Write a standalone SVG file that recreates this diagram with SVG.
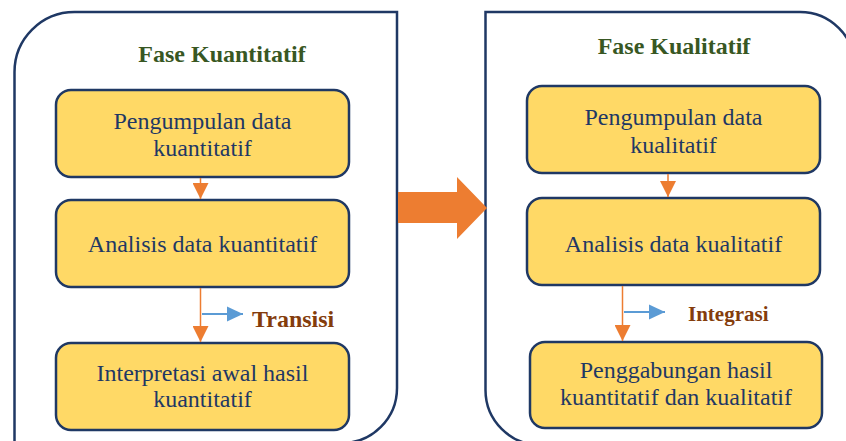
<svg xmlns="http://www.w3.org/2000/svg" width="846" height="441" viewBox="0 0 846 441">
<style>
.panel{fill:#FFFFFF;stroke:#1F3864;stroke-width:2.5}
.box{fill:#FFD966;stroke:#1F3864;stroke-width:2.5}
.t{font-family:"Liberation Serif","Times New Roman",serif;font-size:24px;fill:#1F3864;text-anchor:middle}
.title{font-family:"Liberation Serif","Times New Roman",serif;font-size:24px;font-weight:bold;fill:#385723;text-anchor:middle}
.lbl{font-family:"Liberation Serif","Times New Roman",serif;font-weight:bold;fill:#843C0C}
.oc{stroke:#ED7D31;stroke-width:1.5;fill:none}
.bc{stroke:#5B9BD5;stroke-width:2;fill:none}
</style>
<defs>
<marker id="ho" markerUnits="userSpaceOnUse" markerWidth="16" markerHeight="16" viewBox="0 0 16 16" refX="16" refY="8" orient="auto"><path d="M0,0 L16,8 L0,16 Z" fill="#ED7D31"/></marker>
<marker id="hb" markerUnits="userSpaceOnUse" markerWidth="16" markerHeight="16" viewBox="0 0 16 16" refX="16" refY="8" orient="auto"><path d="M0,0.5 L16,8 L0,15.5 Z" fill="#5B9BD5"/></marker>
</defs>
<rect width="846" height="441" fill="#FFFFFF"/>
<g id="panel-kuantitatif">
<path class="panel" d="M14.5,445 V72 A60,60 0 0 1 74.5,12 H397 V388 A55,55 0 0 1 342,443 H14.5 Z"/>
<text class="title" x="222" y="62">Fase Kuantitatif</text>
</g>
<g id="panel-kualitatif">
<path class="panel" d="M485.5,12 H800 A55,55 0 0 1 855,67 V445 H540.5 A55,55 0 0 1 485.5,390 Z"/>
<text class="title" x="674" y="54">Fase Kualitatif</text>
</g>
<g id="big-arrow">
<path d="M398,192 H457 V177 L487,208 L457,239 V223 H398 Z" fill="#ED7D31"/>
</g>
<g id="n1">
<rect class="box" x="56" y="90" width="293" height="87" rx="15"/>
<text class="t" x="202.5" y="129">Pengumpulan data</text>
<text class="t" x="202.5" y="156">kuantitatif</text>
</g>
<g id="n2">
<rect class="box" x="56" y="200" width="293" height="87" rx="15"/>
<text class="t" x="202.5" y="252">Analisis data kuantitatif</text>
</g>
<g id="n3">
<rect class="box" x="56" y="343" width="293" height="87" rx="15"/>
<text class="t" x="202.5" y="381">Interpretasi awal hasil</text>
<text class="t" x="202.5" y="407">kuantitatif</text>
</g>
<g id="n4">
<rect class="box" x="527" y="86" width="293" height="87" rx="15"/>
<text class="t" x="673.5" y="125">Pengumpulan data</text>
<text class="t" x="673.5" y="153">kualitatif</text>
</g>
<g id="n5">
<rect class="box" x="527" y="198" width="293" height="87" rx="15"/>
<text class="t" x="673.5" y="252">Analisis data kualitatif</text>
</g>
<g id="n6">
<rect class="box" x="530" y="342" width="292" height="86" rx="15"/>
<text class="t" x="676" y="378">Penggabungan hasil</text>
<text class="t" x="676" y="405">kuantitatif dan kualitatif</text>
</g>
<g id="connectors">
<path class="oc" d="M200.5,178 V199" marker-end="url(#ho)"/>
<path class="oc" d="M200.5,288 V342" marker-end="url(#ho)"/>
<path class="bc" d="M202,314 H243" marker-end="url(#hb)"/>
<path class="oc" d="M668,174 V197" marker-end="url(#ho)"/>
<path class="oc" d="M622.5,286 V341" marker-end="url(#ho)"/>
<path class="bc" d="M624,312 H665" marker-end="url(#hb)"/>
</g>
<text class="lbl" x="252" y="327" font-size="24">Transisi</text>
<text class="lbl" x="688" y="321" font-size="21">Integrasi</text>
</svg>
